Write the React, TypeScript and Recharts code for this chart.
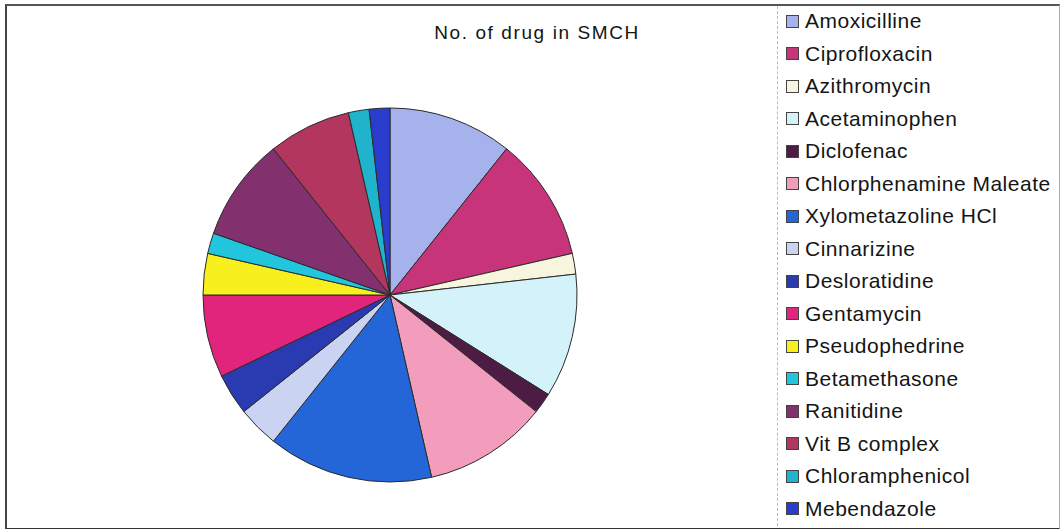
import { PieChart, Pie, Cell, Legend } from "recharts";

// drug counts, clockwise from 12 o'clock
const drugs = [
  "Amoxicilline",
  "Ciprofloxacin",
  "Azithromycin",
  "Acetaminophen",
  "Diclofenac",
  "Chlorphenamine Maleate",
  "Xylometazoline HCl",
  "Cinnarizine",
  "Desloratidine",
  "Gentamycin",
  "Pseudophedrine",
  "Betamethasone",
  "Ranitidine",
  "Vit B complex",
  "Chloramphenicol",
  "Mebendazole",
];
const counts = [6, 6, 1, 6, 1, 6, 8, 2, 2, 4, 2, 1, 5, 4, 1, 1];
const colors = [
  "#a6b2ec",
  "#c8347a",
  "#f7f5de",
  "#d3f2f9",
  "#4d1c44",
  "#f39dbd",
  "#2466d8",
  "#cad4f2",
  "#2a3ab0",
  "#e2257c",
  "#f7ef1e",
  "#22c6dc",
  "#82306e",
  "#b2365e",
  "#1fb4cc",
  "#2a3ccc",
];

const data = drugs.map((name, i) => ({ name, value: counts[i], fill: colors[i] }));

// keep legend rows in data order
const LegendList = (props: any) => {
  const items = [...(props.payload || [])].sort(
    (a: any, b: any) => drugs.indexOf(a.value) - drugs.indexOf(b.value)
  );
  return (
    <div style={{ fontFamily: "'Liberation Sans', Arial, sans-serif" }}>
      {items.map((entry: any, i: number) => (
        <div
          key={i}
          style={{ height: 32.5, display: "flex", alignItems: "center", paddingLeft: 9 }}
        >
          <span
            style={{
              width: 11,
              height: 11,
              background: entry.payload?.fill || entry.color,
              border: "1px solid #444",
              marginRight: 6,
              flexShrink: 0,
            }}
          />
          <span style={{ fontSize: 21, letterSpacing: 0.5, color: "#151515", whiteSpace: "nowrap" }}>
            {entry.value}
          </span>
        </div>
      ))}
    </div>
  );
};

export default function App() {
  return (
    <div style={{ position: "absolute", left: 0, top: 0, width: 1061, height: 529, background: "#fff" }}>
      <div
        style={{
          position: "absolute",
          left: 5,
          top: 4,
          width: 1052,
          height: 522,
          borderTop: "2px solid #555",
          borderLeft: "2px solid #444",
          borderBottom: "2px solid #333",
          borderRight: "1px solid #aaa",
        }}
      />
      <div
        style={{
          position: "absolute",
          left: 777,
          top: 6,
          width: 0,
          height: 520,
          borderLeft: "1px dashed #bbb",
        }}
      />
      <div
        style={{
          position: "absolute",
          left: 537,
          top: 22,
          transform: "translateX(-50%)",
          fontFamily: "'Liberation Sans', Arial, sans-serif",
          fontSize: 19,
          letterSpacing: 1.6,
          color: "#151515",
          whiteSpace: "nowrap",
        }}
      >
        No. of drug in SMCH
      </div>
      <PieChart
        width={1061}
        height={529}
        margin={{ top: 0, right: 0, bottom: 0, left: 0 }}
        style={{ position: "absolute", left: 0, top: 0 }}
      >
        <Pie
          data={data}
          dataKey="value"
          nameKey="name"
          cx={390}
          cy={295}
          outerRadius={187}
          startAngle={90}
          endAngle={-270}
          stroke="#2b2b2b"
          strokeWidth={1}
          isAnimationActive={false}
        >
          {data.map((d, i) => (
            <Cell key={i} fill={d.fill} />
          ))}
        </Pie>
        <Legend
          layout="vertical"
          content={LegendList}
          wrapperStyle={{ position: "absolute", left: 777, top: 5, width: 280, height: 520 }}
        />
      </PieChart>
    </div>
  );
}
